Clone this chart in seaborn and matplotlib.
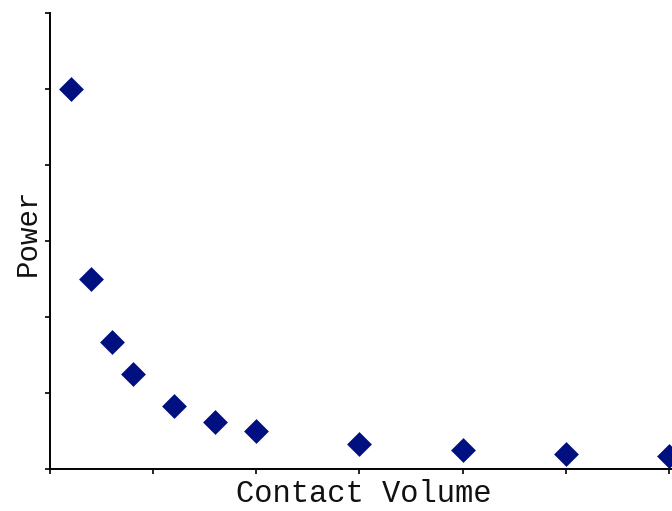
import matplotlib
matplotlib.use("Agg")
import pandas as pd
import seaborn as sns
import matplotlib.pyplot as plt

contact_volume = [0.2, 0.4, 0.6, 0.8, 1.2, 1.6, 2.0, 3.0, 4.0, 5.0, 6.0]
power = [5.0, 2.5, 1.67, 1.25, 0.83, 0.62, 0.5, 0.33, 0.25, 0.2, 0.17]
x_ticks = [0, 1, 2, 3, 4, 5, 6]
y_ticks = [0, 1, 2, 3, 4, 5, 6]

sns.set_style("ticks")
plt.rcParams['font.family'] = ['Liberation Mono', 'DejaVu Sans']

df = pd.DataFrame({'Contact Volume': contact_volume, 'Power': power})

fig = plt.figure(figsize=(6.72, 5.11), dpi=100)
ax = fig.add_axes([0.0744, 0.0822, 0.9256, 0.8924])

sns.scatterplot(
    x='Contact Volume',
    y='Power',
    data=df,
    marker='D',
    s=160,
    color='#001080',
    edgecolor='#001080',
    linewidth=0,
    ax=ax,
    clip_on=False,
    zorder=3
)

ax.set_xlim(0, 6.03)
ax.set_ylim(0, 6)
ax.set_xticks(x_ticks)
ax.set_yticks(y_ticks)
ax.set_xticklabels([])
ax.set_yticklabels([])
ax.tick_params(direction='out', length=3.5, width=1.2, color='black')
for side in ['top', 'right']:
    ax.spines[side].set_visible(False)
for side in ['left', 'bottom']:
    ax.spines[side].set_linewidth(1.4)
    ax.spines[side].set_color('black')

ax.set_xlabel('Contact Volume', fontsize=22, va='center', color='#111111')
ax.set_ylabel('Power', fontsize=21, va='center', color='#111111')
ax.xaxis.set_label_coords(0.505, -0.054)
ax.yaxis.set_label_coords(-0.036, 0.52)

fig.savefig('out.png', dpi=100)
